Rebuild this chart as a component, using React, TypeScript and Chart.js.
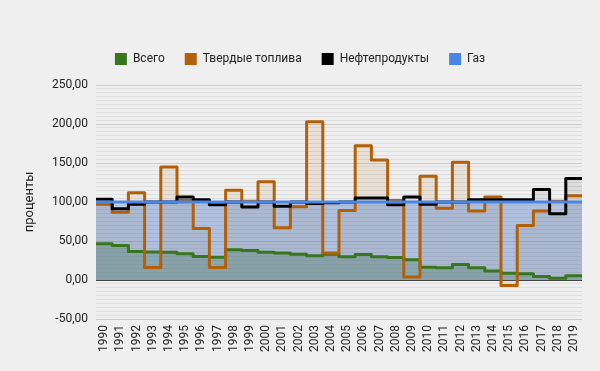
import React, { useEffect, useRef } from "react";
import { Chart, registerables } from "chart.js";

Chart.register(...registerables);

const years = [
  "1990", "1991", "1992", "1993", "1994", "1995", "1996", "1997", "1998", "1999",
  "2000", "2001", "2002", "2003", "2004", "2005", "2006", "2007", "2008", "2009",
  "2010", "2011", "2012", "2013", "2014", "2015", "2016", "2017", "2018", "2019",
];

const seriesNames = ["Всего", "Твердые топлива", "Нефтепродукты", "Газ"];

const total = [
  46.5, 44.3, 36.6, 36, 35.7, 33.7, 30.2, 29.3, 38.8, 37.9,
  35.7, 34.5, 33, 31, 33, 29.9, 32.6, 29.9, 29, 26,
  16.5, 15.7, 20, 15.7, 11.5, 8.8, 8, 4.5, 2.3, 5.4,
];

const solidFuels = [
  97, 87, 112, 16, 145, 102, 66, 16, 115, 101,
  126, 67, 94, 203, 34.5, 89, 172, 154, 102, 4,
  133, 92, 151, 88.5, 106.5, -7, 70, 88.5, 101, 108,
];

const oilProducts = [
  103.5, 91.5, 97, 100, 100, 106.5, 103, 96.6, 100, 93.6,
  100, 94.5, 100, 98, 99, 100, 105, 105, 96.6, 106.5,
  97, 100, 100, 103, 103, 103, 103, 116, 85, 130,
];

const gas = [
  100, 100, 100, 100, 100, 100, 100, 100, 100, 100,
  100, 100, 100, 100, 100, 100, 100, 100, 100, 100,
  100, 100, 100, 100, 100, 100, 100, 100, 100, 100,
];

const yMin = -50;
const yMax = 250;
const yMinorStep = 5;
const yMajorStep = 50;
const yAxisTitle = "проценты";

const lineColors = ["#38761d", "#b45f06", "#000000", "#4a86e8"];
const fillColors = [
  "rgba(56,118,29,0.32)",
  "rgba(180,95,6,0.10)",
  "rgba(0,0,0,0.08)",
  "rgba(74,134,232,0.30)",
];

const FONT = "Roboto";

function toSteps(values: number[]) {
  const pts = values.map((v, i) => ({ x: i - 0.5, y: v }));
  pts.push({ x: values.length - 0.5, y: values[values.length - 1] });
  return pts;
}

export default function App() {
  const canvasRef = useRef<HTMLCanvasElement | null>(null);

  useEffect(() => {
    const canvas = canvasRef.current;
    if (!canvas) return;
    const seriesValues = [total, solidFuels, oilProducts, gas];
    const drawOrders = [3, 2, 1, 0];

    const bgPlugin = {
      id: "bgFill",
      beforeDraw(chart: any) {
        const { ctx, width, height } = chart;
        ctx.save();
        ctx.fillStyle = "#efefef";
        ctx.fillRect(0, 0, width, height);
        ctx.restore();
      },
    };

    const legendSpacer = {
      id: "legendSpacer",
      beforeInit(chart: any) {
        const origFit = chart.legend.fit;
        chart.legend.fit = function fit() {
          origFit.bind(chart.legend)();
          this.height += 10;
        };
      },
    };

    const chart = new Chart(canvas, {
      type: "line",
      data: {
        datasets: seriesValues.map((vals, i) => ({
          label: seriesNames[i],
          data: toSteps(vals),
          borderColor: lineColors[i],
          backgroundColor: fillColors[i],
          borderWidth: 3,
          borderJoinStyle: "round" as const,
          stepped: true,
          fill: "origin",
          pointRadius: 0,
          order: drawOrders[i],
        })),
      },
      options: {
        responsive: false,
        animation: false,
        layout: { padding: { left: 18, right: 18, top: 33, bottom: 0 } },
        plugins: {
          filler: { drawTime: "beforeDatasetsDraw" },
          tooltip: { enabled: false },
          legend: {
            position: "top",
            labels: {
              boxWidth: 12,
              boxHeight: 12,
              padding: 20,
              color: "#222222",
              font: { family: FONT, size: 12 },
              sort: (a: any, b: any) => a.datasetIndex - b.datasetIndex,
              generateLabels: (c: any) => {
                const items = Chart.defaults.plugins.legend.labels.generateLabels(c);
                return items.map((it: any, i: number) => ({
                  ...it,
                  fillStyle: lineColors[it.datasetIndex ?? i],
                  strokeStyle: lineColors[it.datasetIndex ?? i],
                  lineWidth: 0,
                }));
              },
            },
          },
        },
        scales: {
          x: {
            type: "linear",
            min: -0.5,
            max: years.length - 0.5,
            grid: { display: false, drawTicks: false },
            border: { display: false },
            afterBuildTicks: (s: any) => {
              s.ticks = years.map((_, i) => ({ value: i }));
            },
            afterFit: (s: any) => {
              s.height = 52;
            },
            ticks: {
              autoSkip: false,
              minRotation: 90,
              maxRotation: 90,
              padding: 6,
              color: "#222222",
              font: { family: FONT, size: 12 },
              callback: (v: any) => years[Math.round(Number(v))] ?? "",
            },
          },
          y: {
            min: yMin,
            max: yMax,
            afterFit: (s: any) => {
              s.width = 78;
            },
            border: { display: false },
            grid: {
              drawTicks: false,
              lineWidth: 1,
              color: (ctx: any) => {
                const v = ctx.tick ? ctx.tick.value : 1;
                if (v === 0) return "#444444";
                if (v % yMajorStep === 0) return "#cccccc";
                return "#dedede";
              },
            },
            ticks: {
              stepSize: yMinorStep,
              autoSkip: false,
              maxTicksLimit: 1000,
              padding: 8,
              color: "#222222",
              font: { family: FONT, size: 12 },
              callback: (v: any) =>
                Number(v) % yMajorStep === 0 ? Number(v).toFixed(2).replace(".", ",") : "",
            },
            title: {
              display: true,
              text: yAxisTitle,
              color: "#222222",
              font: { family: FONT, size: 13 },
              padding: { top: 4, bottom: 4 },
            },
          },
        },
      },
      plugins: [bgPlugin, legendSpacer],
    } as any);

    return () => chart.destroy();
  }, []);

  return (
    <div style={{ position: "absolute", left: 0, top: 0, width: 600, height: 371 }}>
      <canvas ref={canvasRef} width={600} height={371} />
    </div>
  );
}
